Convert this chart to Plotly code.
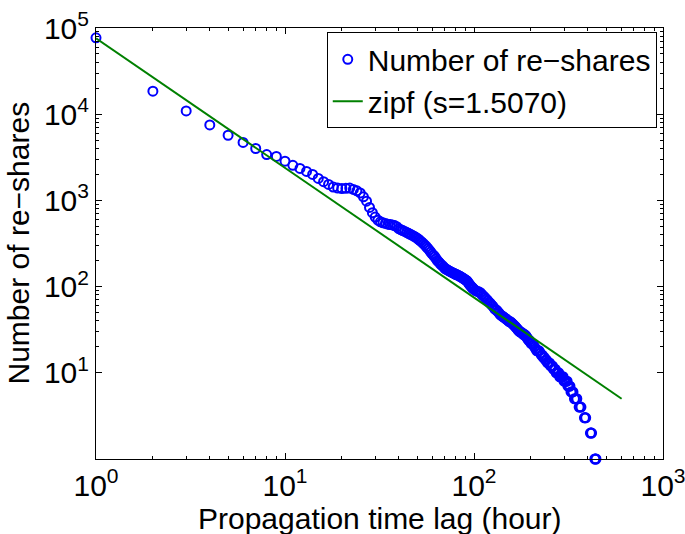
import plotly.graph_objects as go

# ---- data (hour -> number of re-shares) ----
hours_1 = list(range(1, 101))
reshares_1 = [77000, 18500, 10900, 7500, 5700, 4700, 4000, 3400, 3240, 2850,
              2550, 2350, 2170, 2000, 1800, 1650, 1530, 1430, 1390, 1370,
              1380, 1390, 1340, 1290, 1220, 1100, 980, 830, 720, 640,
              590, 565, 550, 540, 530, 525, 520, 510, 495, 470,
              458, 447, 436, 425, 415, 405, 395, 385, 375, 365,
              352, 340, 328, 315, 302, 290, 277, 265, 252, 240,
              231, 222, 211, 200, 193, 186, 180, 175, 169, 163,
              160, 157, 154, 152, 149, 147, 145, 143, 141, 139,
              137, 136, 134, 132, 130, 128, 126, 124, 122, 120,
              118, 116, 112, 108, 105, 102, 99, 97, 95, 93]

hours_2 = list(range(102, 201, 2))
reshares_2 = [90, 88, 87, 85, 81, 78, 75, 72, 69, 66,
              64, 61, 59, 56, 54, 53, 51, 49, 47, 46,
              45, 44, 43, 42, 41, 40, 39, 39, 38, 37,
              36, 35, 34, 33, 32, 31, 30, 30, 29, 29,
              28, 28, 27, 27, 26, 25, 24, 24, 23, 22]

hours_3 = list(range(203, 312, 3))
reshares_3 = [22, 21, 20, 19, 18, 18, 18, 17, 16, 16,
              15, 15, 14, 14, 13, 13, 13, 12, 12, 12,
              11, 11, 11, 10, 10, 10, 10, 9, 9, 9,
              9, 9, 8, 8, 8, 8, 8]

hours_4 = [314, 318, 322, 326, 330, 334, 340, 346, 350, 360, 364,
           368, 384, 387, 390, 413, 416, 419, 436, 439, 442]
reshares_4 = [7, 7, 7, 6, 6, 6, 5, 5, 5, 4, 4,
              4, 3, 3, 3, 2, 2, 2, 1, 1, 1]

hours = hours_1 + hours_2 + hours_3 + hours_4
reshares = reshares_1 + reshares_2 + reshares_3 + reshares_4

zipf_x = [1, 604]
zipf_y = [76000, 5.0]

x_tickvals = [1, 10, 100, 1000]
x_ticktext = ["10<sup>0</sup>", "10<sup>1</sup>", "10<sup>2</sup>", "10<sup>3</sup>"]
y_tickvals = [10, 100, 1000, 10000, 100000]
y_ticktext = ["10<sup>1</sup>", "10<sup>2</sup>", "10<sup>3</sup>", "10<sup>4</sup>", "10<sup>5</sup>"]

x_minor = [m * d for d in (1, 10, 100) for m in range(2, 10)]
y_minor = [m * d for d in (10, 100, 1000, 10000) for m in range(2, 10)]

FONT = "Liberation Sans, Arial, Helvetica, sans-serif"

fig = go.Figure()
fig.add_trace(go.Scatter(
    x=hours, y=reshares, mode="markers", name="Number of re\u2212shares",
    marker=dict(symbol="circle-open", size=9, color="#0000FF",
                line=dict(width=2, color="#0000FF")),
    cliponaxis=False,
))
fig.add_trace(go.Scatter(
    x=zipf_x, y=zipf_y, mode="lines", name="zipf (s=1.5070)",
    line=dict(color="#008000", width=2),
    cliponaxis=False,
))

axis_common = dict(
    type="log", showgrid=False, zeroline=False, automargin=False,
    showline=True, linecolor="black", linewidth=1, mirror="allticks",
    ticks="inside", ticklen=6, tickwidth=1, tickcolor="black",
    tickfont=dict(family=FONT, size=30, color="black"),
    ticklabeloverflow="allow",
)

fig.update_layout(
    width=685, height=534,
    margin=dict(l=96, r=22, t=28, b=75),
    plot_bgcolor="white", paper_bgcolor="white",
    font=dict(family=FONT, size=30, color="black"),
    xaxis=dict(**axis_common, range=[0, 3],
               tickvals=x_tickvals, ticktext=x_ticktext,
               minor=dict(tickvals=x_minor, ticks="inside", ticklen=3,
                          tickcolor="black", showgrid=False)),
    yaxis=dict(**axis_common, range=[0, 5],
               tickvals=y_tickvals, ticktext=y_ticktext,
               minor=dict(tickvals=y_minor, ticks="inside", ticklen=3,
                          tickcolor="black", showgrid=False)),
    legend=dict(x=0.989, y=0.99, xanchor="right", yanchor="top",
                bordercolor="black", borderwidth=1, bgcolor="white",
                font=dict(family=FONT, size=30, color="black"),
                tracegroupgap=0),
    annotations=[
        dict(text="Propagation time lag (hour)", xref="paper", yref="paper",
             x=0.5, y=-(518 - 459) / 431, xanchor="center", yanchor="middle",
             showarrow=False, font=dict(family=FONT, size=30, color="black")),
        dict(text="Number of re\u2212shares", xref="paper", yref="paper",
             x=(18 - 96) / 567, y=0.5, xanchor="center", yanchor="middle",
             textangle=-90, showarrow=False,
             font=dict(family=FONT, size=30, color="black")),
    ],
)

fig.write_html("out.html", config={"displayModeBar": False},
               post_script="document.body.style.margin='0';document.body.style.padding='0';")
